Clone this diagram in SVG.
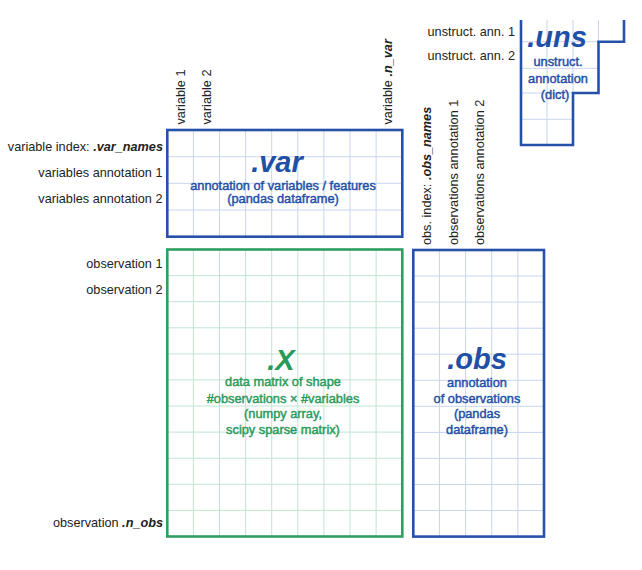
<svg xmlns="http://www.w3.org/2000/svg" width="642" height="570" viewBox="0 0 642 570">
<style>
.lbl{font-family:"Liberation Sans",Arial,sans-serif;font-size:12.7px;fill:#222}
.bi{font-weight:bold;font-style:italic}
.title{font-family:"Liberation Sans",Arial,sans-serif;font-size:29px;font-weight:bold;font-style:italic;text-anchor:middle}
.desc{font-family:"Liberation Sans",Arial,sans-serif;font-size:12.8px;text-anchor:middle;stroke-width:0.45}
.blue{fill:#1f4fa6;stroke:#1f4fa6}
.green{fill:#2a9a5a;stroke:#2a9a5a}
.title.blue,.title.green{stroke:none}
.gb{stroke:#c8d5ef;stroke-width:1;fill:none}
.gg{stroke:#c2e5d1;stroke-width:1;fill:none}
.bb{stroke:#2552a8;stroke-width:2.6;fill:none}
.bg{stroke:#2f9e62;stroke-width:2.6;fill:none}
</style>

<g id="var">
<path class="gb" d="M193.4 130V236.7M219.5 130V236.7M245.6 130V236.7M271.7 130V236.7M297.8 130V236.7M323.9 130V236.7M350 130V236.7M376.1 130V236.7M167.3 156.7H402.3M167.3 183.3H402.3M167.3 210H402.3"/>
<rect class="bb" x="167.3" y="130" width="235" height="106.7"/>
<text class="title blue" x="277" y="171.5">.var</text>
<text class="desc blue" x="283" y="189.5">annotation of variables / features</text>
<text class="desc blue" x="283" y="203">(pandas dataframe)</text>
</g>

<g id="X">
<path class="gg" d="M193.4 249.5V536.5M219.5 249.5V536.5M245.6 249.5V536.5M271.7 249.5V536.5M297.8 249.5V536.5M323.9 249.5V536.5M350 249.5V536.5M376.1 249.5V536.5M167.3 275.6H402.3M167.3 301.7H402.3M167.3 327.8H402.3M167.3 353.9H402.3M167.3 379.9H402.3M167.3 406H402.3M167.3 432.1H402.3M167.3 458.2H402.3M167.3 484.3H402.3M167.3 510.4H402.3"/>
<rect class="bg" x="167.3" y="249.5" width="235" height="287"/>
<text class="title green" x="281" y="370">.X</text>
<text class="desc green" x="283" y="386">data matrix of shape</text>
<text class="desc green" x="283" y="402.5">#observations × #variables</text>
<text class="desc green" x="283" y="418">(numpy array,</text>
<text class="desc green" x="283" y="434">scipy sparse matrix)</text>
</g>

<g id="obs">
<path class="gb" d="M439.4 250V536.6M465.6 250V536.6M491.7 250V536.6M517.9 250V536.6M413.3 276H544M413.3 302.1H544M413.3 328.2H544M413.3 354.2H544M413.3 380.3H544M413.3 406.3H544M413.3 432.4H544M413.3 458.4H544M413.3 484.5H544M413.3 510.5H544"/>
<rect class="bb" x="413.3" y="250" width="130.7" height="286.6"/>
<text class="title blue" x="477" y="368.5">.obs</text>
<text class="desc blue" x="477" y="386.5">annotation</text>
<text class="desc blue" x="477" y="402.5">of observations</text>
<text class="desc blue" x="477" y="418">(pandas</text>
<text class="desc blue" x="477" y="434">dataframe)</text>
</g>

<g id="uns">
<path class="gb" d="M547 20V145M573 20V93M598.5 20V41.7M521 41.7H598.5M521 68.3H598.5M521 93H573M521 119.3H573"/>
<path class="bb" d="M624 20V41.7H598.5V93H573V145H521V20"/>
<text class="title blue" x="557" y="46.5">.uns</text>
<text class="desc blue" x="558" y="65.5">unstruct.</text>
<text class="desc blue" x="558" y="82.5">annotation</text>
<text class="desc blue" x="555" y="99">(dict)</text>
</g>

<g id="row-labels" class="lbl" text-anchor="end">
<text x="163" y="150.5">variable index: <tspan class="bi">.var_names</tspan></text>
<text x="162.5" y="176.5">variables annotation 1</text>
<text x="162.5" y="203">variables annotation 2</text>
<text x="162.5" y="267.5">observation 1</text>
<text x="162.5" y="293.5">observation 2</text>
<text x="163" y="526.5">observation <tspan class="bi">.n_obs</tspan></text>
<text x="515" y="36">unstruct. ann. 1</text>
<text x="515" y="60">unstruct. ann. 2</text>
</g>

<g id="col-labels" class="lbl">
<text transform="translate(185,124.5) rotate(-90)">variable 1</text>
<text transform="translate(210.5,124.5) rotate(-90)">variable 2</text>
<text transform="translate(391.5,124.5) rotate(-90)">variable <tspan class="bi">.n_var</tspan></text>
<text transform="translate(431,245) rotate(-90)">obs. index: <tspan class="bi">.obs_names</tspan></text>
<text transform="translate(457.5,245) rotate(-90)">observations annotation 1</text>
<text transform="translate(484,245) rotate(-90)">observations annotation 2</text>
</g>

<g id="connectors"></g>
</svg>
